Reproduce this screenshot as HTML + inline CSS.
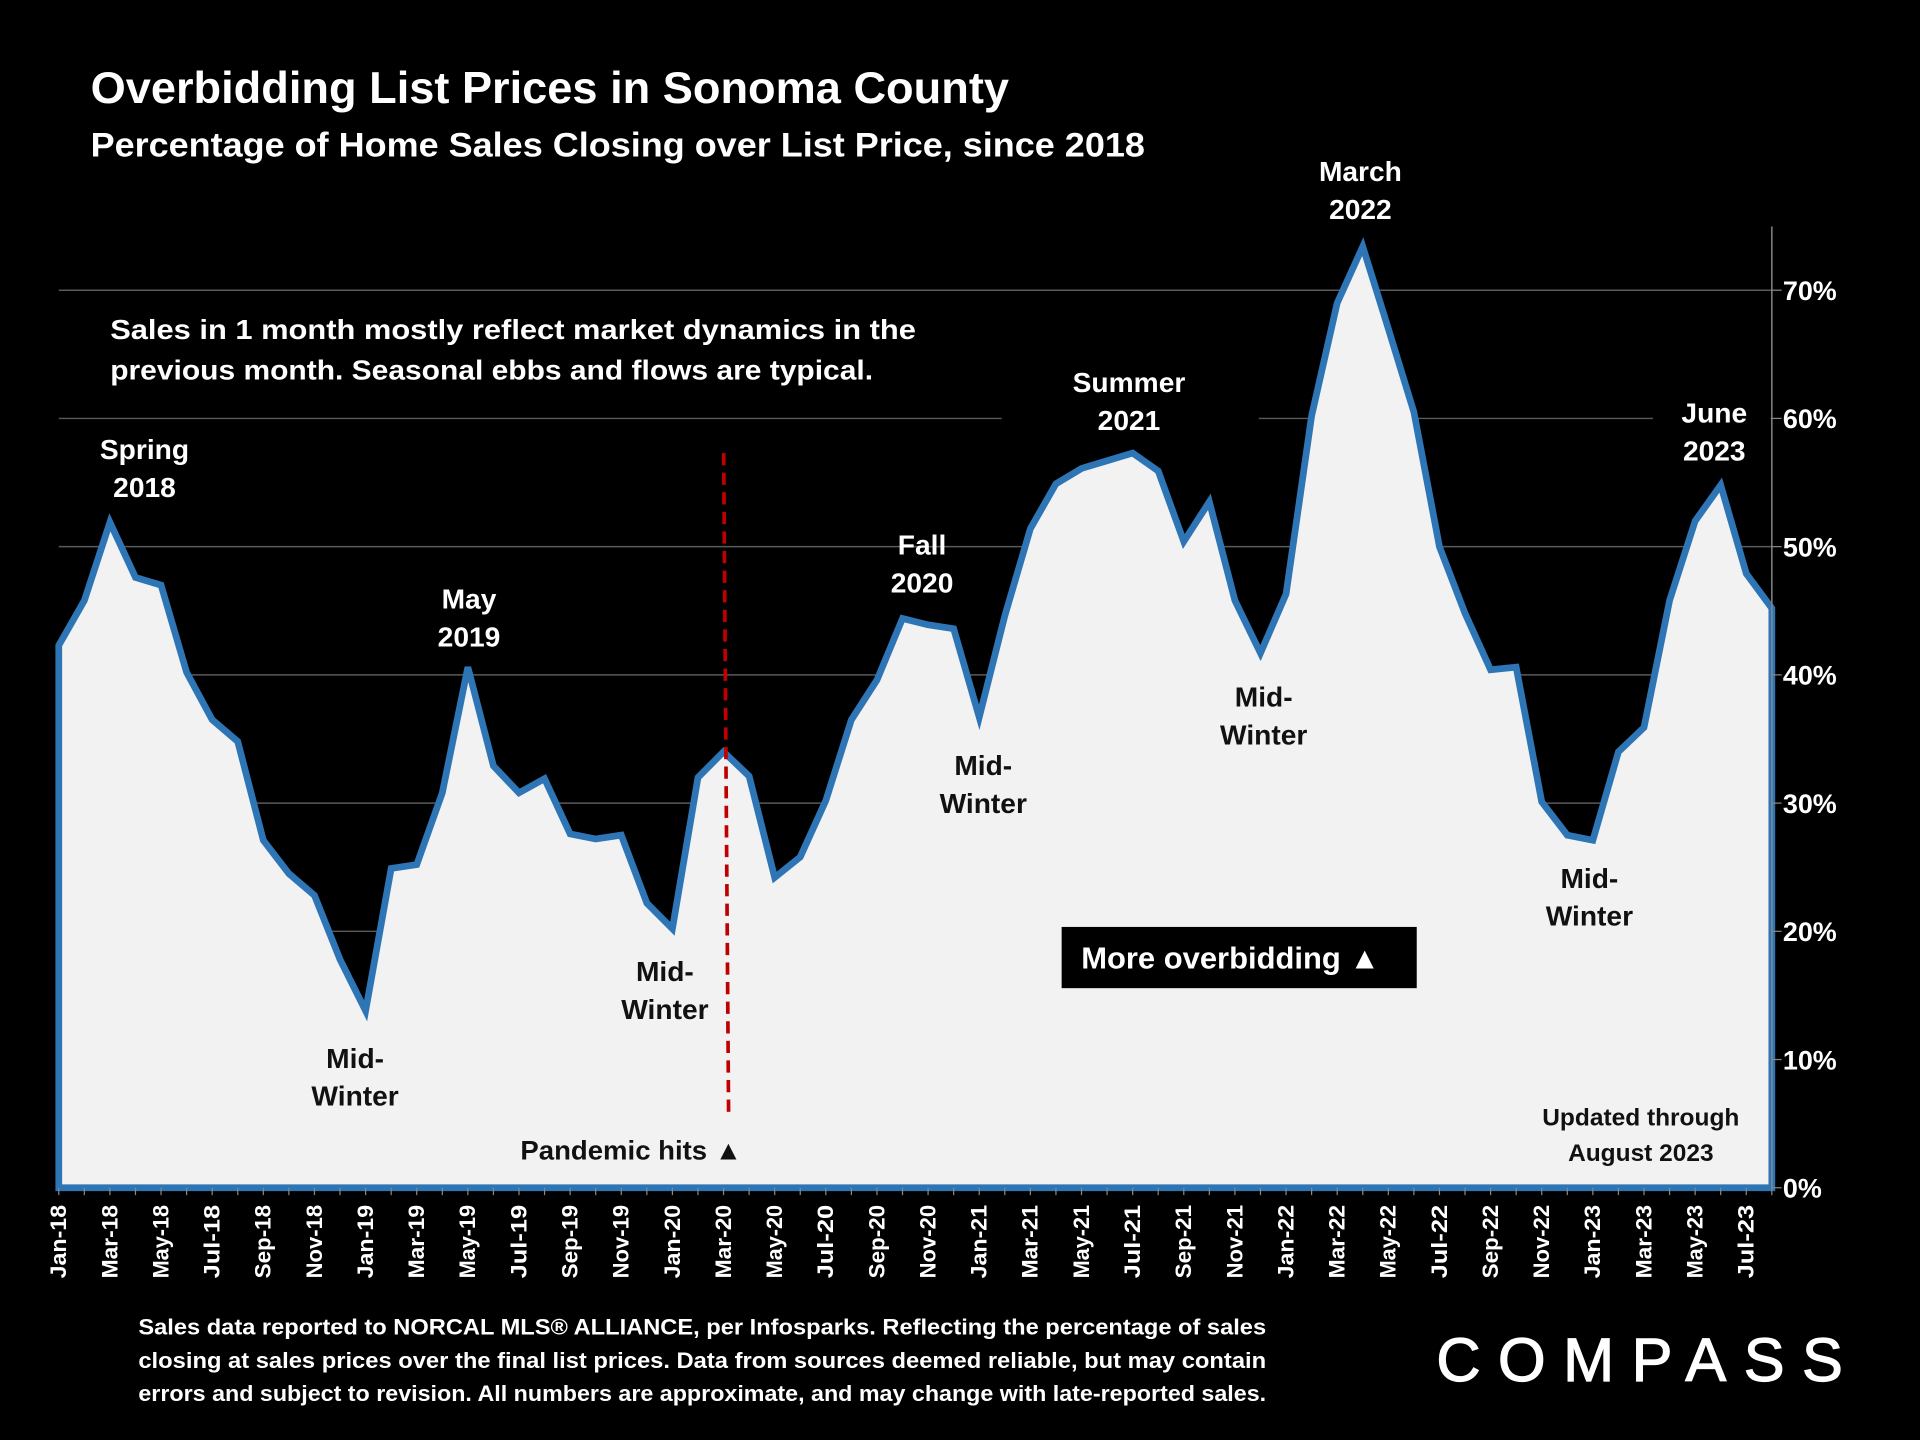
<!DOCTYPE html>
<html><head><meta charset="utf-8"><style>
html,body{margin:0;padding:0;background:#000;}
svg{display:block;}
text{font-family:"Liberation Sans",sans-serif;font-weight:bold;}
</style></head><body>
<svg id="chart" width="1920" height="1440" viewBox="0 0 1568 1176" xmlns="http://www.w3.org/2000/svg">
<rect width="1568" height="1176" fill="#000"/>
<g id="grid"></g>
<g id="area"></g>
<g id="axes"></g>
<g id="ann">
<text x="74" y="84" font-size="36" fill="#fff" textLength="750" lengthAdjust="spacingAndGlyphs">Overbidding List Prices in Sonoma County</text>
<text x="74" y="128" font-size="28" fill="#fff" textLength="861" lengthAdjust="spacingAndGlyphs">Percentage of Home Sales Closing over List Price, since 2018</text>
<rect x="60" y="245" width="758" height="82" fill="#000"/>
<text x="90" y="277" font-size="23" fill="#fff" textLength="658" lengthAdjust="spacingAndGlyphs">Sales in 1 month mostly reflect market dynamics in the</text>
<text x="90" y="310" font-size="23" fill="#fff" textLength="623" lengthAdjust="spacingAndGlyphs">previous month. Seasonal ebbs and flows are typical.</text>
<rect x="818" y="296" width="210" height="64" fill="#000"/>
<rect x="1350" y="322" width="96" height="62" fill="#000"/>
<g font-size="23" text-anchor="middle" fill="#fff">
<text x="118" y="375">Spring</text><text x="118" y="406">2018</text>
<text x="383" y="497">May</text><text x="383" y="528">2019</text>
<text x="753" y="453">Fall</text><text x="753" y="484">2020</text>
<text x="922" y="320">Summer</text><text x="922" y="351">2021</text>
<text x="1111" y="148">March</text><text x="1111" y="179">2022</text>
<text x="1400" y="345">June</text><text x="1400" y="376">2023</text>
</g>
<g font-size="23" text-anchor="middle" fill="#111">
<text x="290" y="872">Mid-</text><text x="290" y="903">Winter</text>
<text x="543" y="801">Mid-</text><text x="543" y="832">Winter</text>
<text x="803" y="633">Mid-</text><text x="803" y="664">Winter</text>
<text x="1032" y="577">Mid-</text><text x="1032" y="608">Winter</text>
<text x="1298" y="725">Mid-</text><text x="1298" y="756">Winter</text>
</g>
<line x1="591" y1="370" x2="595" y2="908" stroke="#c00000" stroke-width="3" stroke-dasharray="10,6"/>
<text x="425" y="947" font-size="22" fill="#111" textLength="181" lengthAdjust="spacingAndGlyphs">Pandemic hits ▲</text>
<rect x="867" y="757" width="290" height="50" fill="#000"/>
<text x="883" y="791" font-size="25" fill="#fff" textLength="244" lengthAdjust="spacingAndGlyphs">More overbidding ▲</text>
<g font-size="20" text-anchor="middle" fill="#111">
<text x="1340" y="919">Updated through</text>
<text x="1340" y="948">August 2023</text>
</g>
<g font-size="18" fill="#fff">
<text x="113" y="1090" textLength="921" lengthAdjust="spacingAndGlyphs">Sales data reported to NORCAL MLS® ALLIANCE, per Infosparks. Reflecting the percentage of sales</text>
<text x="113" y="1117" textLength="921" lengthAdjust="spacingAndGlyphs">closing at sales prices over the final list prices. Data from sources deemed reliable, but may contain</text>
<text x="113" y="1144" textLength="921" lengthAdjust="spacingAndGlyphs">errors and subject to revision. All numbers are approximate, and may change with late-reported sales.</text>
</g>
<text x="1173" y="1128" font-size="50" fill="#fff" stroke="#fff" stroke-width="1" style="font-weight:normal" textLength="332" lengthAdjust="spacing">COMPASS</text>
</g>
</svg>
<script>
const months = ["Jan-18","Feb-18","Mar-18","Apr-18","May-18","Jun-18","Jul-18","Aug-18","Sep-18","Oct-18","Nov-18","Dec-18",
"Jan-19","Feb-19","Mar-19","Apr-19","May-19","Jun-19","Jul-19","Aug-19","Sep-19","Oct-19","Nov-19","Dec-19",
"Jan-20","Feb-20","Mar-20","Apr-20","May-20","Jun-20","Jul-20","Aug-20","Sep-20","Oct-20","Nov-20","Dec-20",
"Jan-21","Feb-21","Mar-21","Apr-21","May-21","Jun-21","Jul-21","Aug-21","Sep-21","Oct-21","Nov-21","Dec-21",
"Jan-22","Feb-22","Mar-22","Apr-22","May-22","Jun-22","Jul-22","Aug-22","Sep-22","Oct-22","Nov-22","Dec-22",
"Jan-23","Feb-23","Mar-23","Apr-23","May-23","Jun-23","Jul-23","Aug-23"];
const overListPct = [42.3,45.8,51.9,47.6,47.0,40.2,36.5,34.8,27.1,24.5,22.8,17.8,
13.8,24.9,25.2,30.8,40.6,32.9,30.8,31.9,27.6,27.2,27.5,22.2,
20.2,32.0,34.0,32.1,24.2,25.8,30.2,36.5,39.6,44.4,43.9,43.6,
36.7,44.6,51.4,54.9,56.1,56.7,57.3,55.9,50.4,53.5,45.8,41.7,
46.3,60.2,69.0,73.4,67.0,60.5,50.0,44.8,40.4,40.6,30.1,27.5,
27.1,34.0,35.9,45.8,52.0,54.8,47.9,45.2];
const yTicks = [0,10,20,30,40,50,60,70];
const yTickLabels = ["0%","10%","20%","30%","40%","50%","60%","70%"];

const NS="http://www.w3.org/2000/svg";
const X0=48, X1=1447, Y0=970, Y70=237;
function xScale(i){return X0+i*(X1-X0)/(months.length-1);}
function yScale(v){return Y0-(v/70)*(Y0-Y70);}
function mk(tag,attrs,parent){const e=document.createElementNS(NS,tag);for(const k in attrs)e.setAttribute(k,attrs[k]);parent.appendChild(e);return e;}
const grid=document.getElementById('grid'),area=document.getElementById('area'),axes=document.getElementById('axes');
yTicks.forEach((t,i)=>{
  if(t>0){const g=mk('line',{x1:X0,x2:X1,y1:yScale(t),y2:yScale(t),stroke:'#5a5a5a','stroke-width':1.2},grid);
  
  }
  const tk=mk('line',{x1:X1,x2:X1+8,y1:yScale(t),y2:yScale(t),stroke:'#888','stroke-width':1},axes);
  
  
  const lb=mk('text',{x:X1+9,y:yScale(t)+8,'font-size':22,fill:'#fff'},axes);
  lb.textContent=yTickLabels[i];
  
  
});
let d='M'+X0+','+Y0;
overListPct.forEach((v,i)=>{d+=' L'+xScale(i).toFixed(2)+','+yScale(v).toFixed(2);});
d+=' L'+X1+','+Y0+' Z';
const p=mk('path',{d:d,fill:'#f2f2f2',stroke:'#2e75b6','stroke-width':5.5,'stroke-linejoin':'miter'},area);


const ax=mk('line',{x1:X1,x2:X1,y1:185,y2:Y0,stroke:'#888','stroke-width':1.2},axes);


months.forEach((m,i)=>{
  const x=xScale(i);
  const tk=mk('line',{x1:x,x2:x,y1:Y0,y2:Y0+6,stroke:'#888','stroke-width':1},axes);
  
  
  if(i%2===0){
    const t=mk('text',{x:0,y:0,'font-size':18,fill:'#fff','text-anchor':'end',textLength:60,lengthAdjust:'spacingAndGlyphs',transform:'translate('+(x+6)+','+(Y0+14)+') rotate(-90)'},axes);
    t.textContent=m;
    
    
  }
});
</script>
</body></html>
